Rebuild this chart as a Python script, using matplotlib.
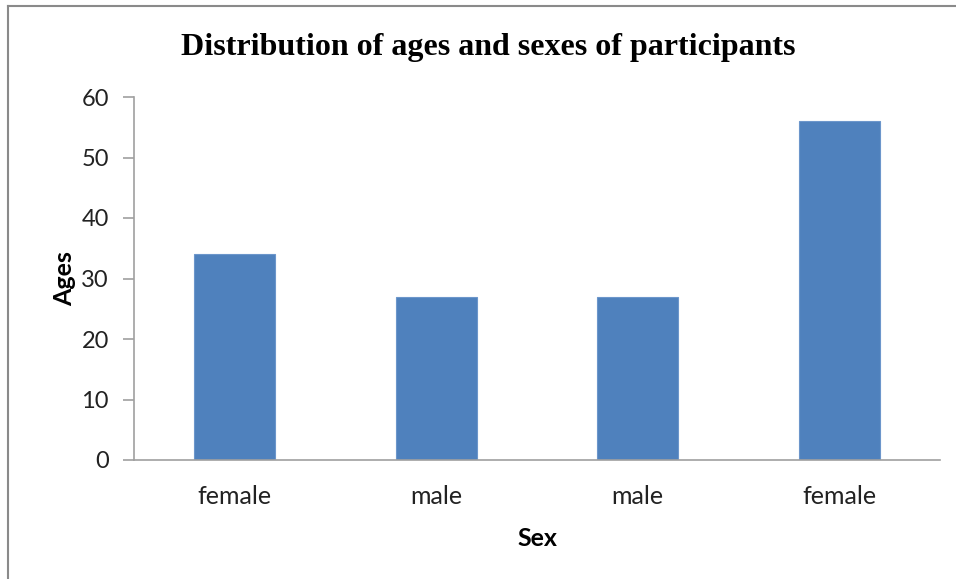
import matplotlib.pyplot as plt
from matplotlib.lines import Line2D

categories = ['female', 'male', 'male', 'female']
ages = [34, 27, 27, 56]
yticks = [0, 10, 20, 30, 40, 50, 60]

W, H = 956, 579
fig = plt.figure(figsize=(W / 100, H / 100), dpi=100)

# plot area in pixels: x 134..940, y 97..460
ax = fig.add_axes([134 / W, 1 - 460 / H, (940 - 134) / W, (460 - 97) / H])

x = range(len(categories))
ax.bar(x, ages, width=0.4, color='#4f81bd', edgecolor='#6c96cb', linewidth=0.8)
ax.set_xlim(-0.5, len(categories) - 0.5)
ax.set_ylim(0, 60)
ax.set_yticks(yticks)
ax.set_xticks(list(x))
ax.set_xticklabels(categories)

for s in ['top', 'right']:
    ax.spines[s].set_visible(False)
for s in ['left', 'bottom']:
    ax.spines[s].set_color('#a0a0a0')
    ax.spines[s].set_linewidth(1.2)
ax.tick_params(axis='y', length=8, width=1.2, color='#a0a0a0', pad=10,
               labelsize=17, labelcolor='#222222')
ax.tick_params(axis='x', length=0, pad=18, labelsize=18, labelcolor='#222222')
for lab in ax.get_xticklabels() + ax.get_yticklabels():
    lab.set_fontfamily('Lato')

ax.set_ylabel('Ages', fontfamily='Lato', fontweight='bold', fontsize=18, labelpad=4)
ax.set_xlabel('Sex', fontfamily='Lato', fontweight='bold', fontsize=18, labelpad=14)

fig.text(488 / W, 1 - 47 / H, 'Distribution of ages and sexes of participants',
         ha='center', va='center', fontfamily='Liberation Serif',
         fontweight='bold', fontsize=23)

# outer chart border (left and top edges visible)
fig.add_artist(Line2D([8 / W, 8 / W], [0, 1 - 6 / H], transform=fig.transFigure,
                      color='#8a8a8a', linewidth=1.5))
fig.add_artist(Line2D([8 / W, 1], [1 - 6 / H, 1 - 6 / H], transform=fig.transFigure,
                      color='#8a8a8a', linewidth=1.5))

fig.savefig('out.png', dpi=100)
